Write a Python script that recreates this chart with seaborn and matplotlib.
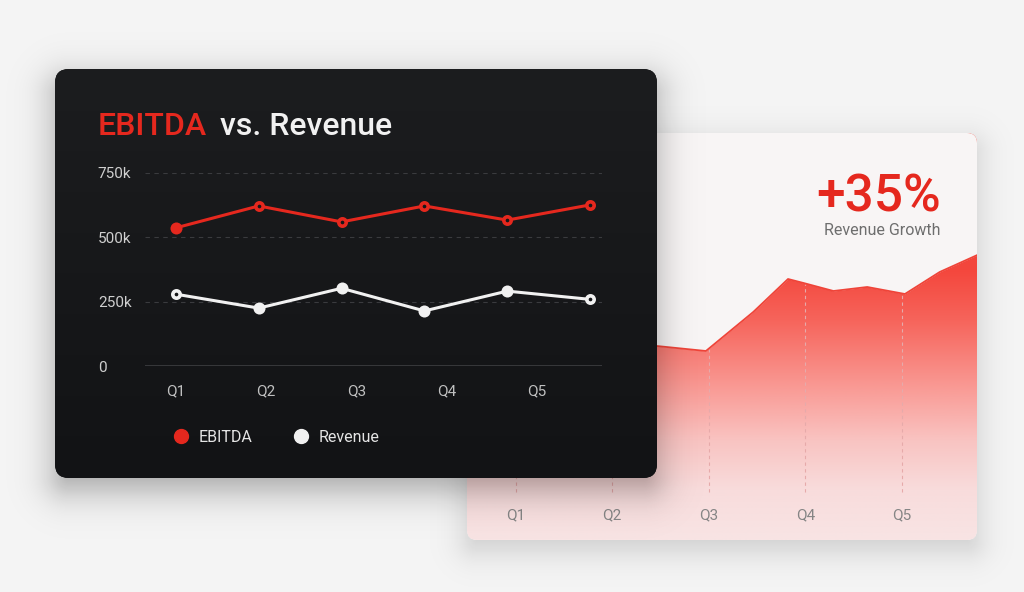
"""EBITDA vs. Revenue card over a revenue growth card."""

import matplotlib.pyplot as plt
import numpy as np
import seaborn as sns
from matplotlib.colors import LinearSegmentedColormap
from matplotlib.lines import Line2D
from matplotlib.patches import FancyBboxPatch

sns.set_theme(style="white")
plt.rcParams["font.family"] = ["Roboto", "DejaVu Sans"]

# front card data (values in k)
points = np.arange(6)
ebitda_k = [537, 622, 560, 622, 567, 626]
revenue_k = [279, 225, 302, 214, 291, 259]
ebitda_filled = [True, False, False, False, False, False]
revenue_filled = [False, True, True, True, True, False]
quarters = ["Q1", "Q2", "Q3", "Q4", "Q5"]
y_ticks = [0, 250, 500, 750]
y_labels = ["0", "250k", "500k", "750k"]

# back card data (quarter position, index value)
growth_pos = [-0.52, 0.0, 0.5, 1.0, 1.46, 1.97, 2.46, 2.82, 2.98, 3.29, 3.64, 4.03, 4.39, 4.78]
growth_val = [205, 215, 200, 198, 194, 189, 228, 261, 257, 249, 253, 246, 268, 285]
growth_label = "+35%"
growth_caption = "Revenue Growth"

RED = "#e5281e"
WHITE = "#f1f1f1"
DARK = "#161719"
BG = "#f4f4f4"
CARD = "#f8f5f5"

W, H = 1024, 592
BACK = (467, 133, 977, 540)
FRONT = (55, 69, 657, 478)

fig = plt.figure(figsize=(W / 100, H / 100), dpi=100, facecolor=BG)


def rect(x0, y0, x1, y1):
    return [x0 / W, 1 - y1 / H, (x1 - x0) / W, (y1 - y0) / H]


def pixel_axes(z):
    a = fig.add_axes([0, 0, 1, 1], zorder=z)
    a.set_xlim(0, W)
    a.set_ylim(H, 0)
    a.axis("off")
    a.patch.set_alpha(0)
    return a


yy, xx = np.mgrid[0:H, 0:W] + 0.5


def shadow(a, box, r, dy, blur, strength):
    x0, y0, x1, y1 = box
    cx, cy = (x0 + x1) / 2, (y0 + y1) / 2 + dy
    qx = np.abs(xx - cx) - ((x1 - x0) / 2 - r)
    qy = np.abs(yy - cy) - ((y1 - y0) / 2 - r)
    d = (np.hypot(np.maximum(qx, 0), np.maximum(qy, 0))
         + np.minimum(np.maximum(qx, qy), 0) - r)
    img = np.zeros((H, W, 4))
    img[..., 3] = strength / (1 + np.exp(d / blur))
    a.imshow(img, extent=(0, W, H, 0), aspect="auto", interpolation="bilinear", zorder=1)


def card_patch(a, box, r, color):
    x0, y0, x1, y1 = box
    p = FancyBboxPatch((x0, y0), x1 - x0, y1 - y0,
                       boxstyle=f"round,pad=0,rounding_size={r}",
                       fc=color, ec="none", zorder=2)
    a.add_patch(p)
    return p


# ---- back card ----
bg = pixel_axes(0)
shadow(bg, BACK, 10, 10, 10, 0.17)
back = card_patch(bg, BACK, 10, CARD)

ax_g = fig.add_axes(rect(*BACK), zorder=1)
ax_g.patch.set_alpha(0)
gx0, gx1 = -0.503, 4.776
ax_g.set_xlim(gx0, gx1)
ax_g.set_ylim(0, 407)

fade = LinearSegmentedColormap.from_list(
    "fade",
    [(0, "#f23a30"), (0.337, "#f4473d"), (0.459, "#f6645b"), (0.607, "#f9948e"),
     (0.754, "#f9c3c1"), (0.877, "#f8dcdc"), (1, "#f8e4e4")],
)
grad = ax_g.imshow(np.linspace(0, 1, 256)[:, None], cmap=fade, aspect="auto",
                   extent=(gx0, gx1, 0, 407), origin="upper", zorder=1)
grad.set_clip_path(back)
top = ax_g.fill_between(growth_pos, growth_val, 407, color=CARD, lw=0, zorder=2)
top.set_clip_path(back)
sns.lineplot(x=growth_pos, y=growth_val, color="#ef4439", lw=1.3, ax=ax_g, zorder=3)
q_idx = np.arange(len(quarters))
ax_g.vlines(q_idx, 48, np.interp(q_idx, growth_pos, growth_val), colors="#e6aaaa",
            lw=0.8, linestyles=(0, (3, 3)), zorder=2.5)
ax_g.set_xticks(q_idx, quarters)
ax_g.set_yticks([])
ax_g.xaxis.set_zorder(5)
ax_g.tick_params(axis="x", length=0, pad=-23, labelsize=11, labelcolor="#858585")
sns.despine(ax=ax_g, left=True, bottom=True)

ax_g.text(941, 211, growth_label, transform=bg.transData, ha="right", va="baseline",
          fontsize=37, color=RED, fontweight="medium")
ax_g.text(941, 235, growth_caption, transform=bg.transData, ha="right", va="baseline",
          fontsize=11.5, color="#6e6e6e")

# ---- front card ----
ov = pixel_axes(2)
shadow(ov, FRONT, 14, 12, 11, 0.33)
front = card_patch(ov, FRONT, 14, DARK)
shade = ov.imshow(np.linspace(0, 1, 256)[:, None],
                  cmap=LinearSegmentedColormap.from_list("d", ["#1c1d1f", "#121315"]),
                  aspect="auto", extent=(FRONT[0], FRONT[2], FRONT[3], FRONT[1]),
                  origin="upper", zorder=3)
shade.set_clip_path(front)
ov.set_xlim(0, W)
ov.set_ylim(H, 0)

t1 = ov.text(98, 135, "EBITDA", fontsize=23, color=RED, fontweight="medium",
             va="baseline", zorder=4)
fig.canvas.draw()
bb = t1.get_window_extent()
x_end = ov.transData.inverted().transform((bb.x1, bb.y0))[0]
ov.text(x_end + 13, 135, "vs. Revenue", fontsize=23, color=WHITE, fontweight="medium",
        va="baseline", zorder=4)

ax = fig.add_axes(rect(145, 173, 602, 366), zorder=3)
ax.patch.set_alpha(0)
ax.set_xlim(-0.374, 5.145)
ax.set_ylim(0, 750)
ax.set_yticks(y_ticks, y_labels)
ax.grid(axis="y", color="#3a3b3e", lw=0.8, ls=(0, (4, 4)))
ax.axhline(0, color="#3d3e41", lw=1.2)
sns.despine(ax=ax, left=True, bottom=True, top=True, right=True)
ax.tick_params(axis="y", length=0, pad=34, labelsize=11, labelcolor="#cfcfcf")
for lbl in ax.get_yticklabels():
    lbl.set_ha("left")
ax.set_xticks(np.arange(len(quarters)) * 1.09, quarters)
ax.tick_params(axis="x", length=0, pad=13, labelsize=11, labelcolor="#c0c0c0")

sns.lineplot(x=points, y=ebitda_k, color=RED, lw=2.2, ax=ax, zorder=3)
sns.lineplot(x=points, y=revenue_k, color=WHITE, lw=2.2, ax=ax, zorder=3)
for vals, filled, col in [(ebitda_k, ebitda_filled, RED), (revenue_k, revenue_filled, WHITE)]:
    v = np.array(vals)
    f = np.array(filled)
    sns.scatterplot(x=points[f], y=v[f], s=75, color=col, edgecolor=col, linewidth=0,
                    ax=ax, zorder=4)
    sns.scatterplot(x=points[~f], y=v[~f], s=28, color=DARK, edgecolor=col, linewidth=2.6,
                    ax=ax, zorder=4)

handles = [
    Line2D([], [], ls="none", marker="o", ms=10, mfc=RED, mec=RED, label="EBITDA"),
    Line2D([], [], ls="none", marker="o", ms=10, mfc=WHITE, mec=WHITE, label="Revenue"),
]
ax.legend(handles=handles, loc="center left", bbox_to_anchor=(173.4 / W, 1 - 437 / H),
          bbox_transform=fig.transFigure, ncol=2, frameon=False, fontsize=11.5,
          labelcolor="#e4e4e4", handlelength=1.0, handletextpad=0.6, columnspacing=2.5,
          borderpad=0, borderaxespad=0)

fig.savefig("out.png", dpi=100, facecolor=BG)
